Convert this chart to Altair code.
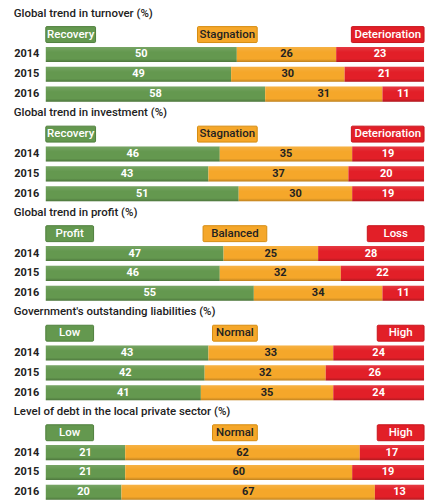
import altair as alt
import pandas as pd

# ---------------- data ----------------
titles = [
    "Global trend in turnover (%)",
    "Global trend in investment (%)",
    "Global trend in profit (%)",
    "Government's outstanding liabilities (%)",
    "Level of debt in the local private sector (%)",
]
legend_labels = [
    ["Recovery", "Stagnation", "Deterioration"],
    ["Recovery", "Stagnation", "Deterioration"],
    ["Profit", "Balanced", "Loss"],
    ["Low", "Normal", "High"],
    ["Low", "Normal", "High"],
]
years = ["2014", "2015", "2016"]
green_vals = [[50, 49, 58], [46, 43, 51], [47, 46, 55], [43, 42, 41], [21, 21, 20]]
orange_vals = [[26, 30, 31], [35, 37, 30], [25, 32, 34], [33, 32, 35], [62, 60, 67]]
red_vals = [[23, 21, 11], [19, 20, 19], [28, 22, 11], [24, 26, 24], [17, 19, 13]]

# ---------------- style ----------------
W = 380
box_widths = [[50, 60, 73], [50, 60, 73], [48, 64, 57], [48, 45, 47], [48, 45, 47]]
mid_centers = [0.48, 0.48, 0.50, 0.50, 0.50]
cats = ["g", "o", "r"]
fills = ["#64984f", "#f5a72a", "#e21f28"]
strokes = ["#4f7f3c", "#d68c10", "#c8141c"]
FONT = "Roboto"

ydomain = ["legend"] + years


def yenc():
    return alt.Y(
        "row:N",
        scale=alt.Scale(domain=ydomain, paddingInner=0.24, paddingOuter=0.1),
        axis=alt.Axis(
            title=None, ticks=False, domain=False, grid=False,
            labelExpr="datum.value == 'legend' ? '' : datum.value",
            labelFontSize=11, labelFontWeight="bold", labelColor="#222",
            labelPadding=7, labelFont=FONT,
        ),
    )


xscale = alt.Scale(domain=[0, 1], nice=False, zero=False)
color = alt.Color("cat:N", scale=alt.Scale(domain=cats, range=fills), legend=None)
stroke = alt.Stroke("cat:N", scale=alt.Scale(domain=cats, range=strokes), legend=None)
txtcolor = alt.condition(alt.datum.cat == "o", alt.value("#222"), alt.value("white"))

shade = alt.Gradient(
    gradient="linear", x1=0, x2=0, y1=0, y2=1,
    stops=[
        alt.GradientStop(color="rgba(255,255,255,0.12)", offset=0),
        alt.GradientStop(color="rgba(255,255,255,0)", offset=0.35),
        alt.GradientStop(color="rgba(0,0,0,0)", offset=0.8),
        alt.GradientStop(color="rgba(0,0,0,0.22)", offset=1),
    ],
)


def panel(i):
    rows = []
    for j, y in enumerate(years):
        vals = [green_vals[i][j], orange_vals[i][j], red_vals[i][j]]
        tot = sum(vals)
        cum = 0
        for k, v in enumerate(vals):
            rows.append(dict(row=y, cat=cats[k], value=v,
                             x0=cum / tot, x1=(cum + v) / tot, xm=(cum + v / 2) / tot))
            cum += v
    df = pd.DataFrame(rows)

    leg = []
    ws = [w / W for w in box_widths[i]]
    spans = [(0, ws[0]), (mid_centers[i] - ws[1] / 2, mid_centers[i] + ws[1] / 2), (1 - ws[2], 1)]
    for k, lab in enumerate(legend_labels[i]):
        a, b = spans[k]
        leg.append(dict(row="legend", cat=cats[k], label=lab, x0=a, x1=b, xm=(a + b) / 2))
    ldf = pd.DataFrame(leg)

    base_l = alt.Chart(ldf)
    lbox = base_l.mark_bar(strokeWidth=1, cornerRadius=1, height=16).encode(
        x=alt.X("x0:Q", scale=xscale, axis=None), x2="x1:Q", y=yenc(), color=color, stroke=stroke)
    ltxt = base_l.mark_text(font=FONT, fontSize=11.5, fontWeight=500).encode(
        x=alt.X("xm:Q", scale=xscale, axis=None), y=yenc(), text="label:N", color=txtcolor)

    base = alt.Chart(df)
    bars = base.mark_bar().encode(
        x=alt.X("x0:Q", scale=xscale, axis=None), x2="x1:Q", y=yenc(), color=color)
    gloss = base.mark_bar(fill=shade).encode(
        x=alt.X("x0:Q", scale=xscale, axis=None), x2="x1:Q", y=yenc())
    btxt = base.mark_text(font=FONT, fontSize=11, fontWeight="bold").encode(
        x=alt.X("xm:Q", scale=xscale, axis=None), y=yenc(), text="value:Q", color=txtcolor)

    return alt.layer(lbox, ltxt, bars, gloss, btxt).properties(
        width=W, height=79,
        title=alt.TitleParams(titles[i], anchor="start", frame="bounds", font=FONT,
                              fontSize=11.5, fontWeight=500, color="#222", offset=6),
    )


chart = alt.vconcat(*[panel(i) for i in range(5)], spacing=3).properties(
    padding={"left": 13, "top": 6, "right": 9, "bottom": 0},
    background="white",
).configure_view(stroke=None).configure_concat(spacing=3)

chart.save("out.html", embed_options={"renderer": "svg", "actions": False})
